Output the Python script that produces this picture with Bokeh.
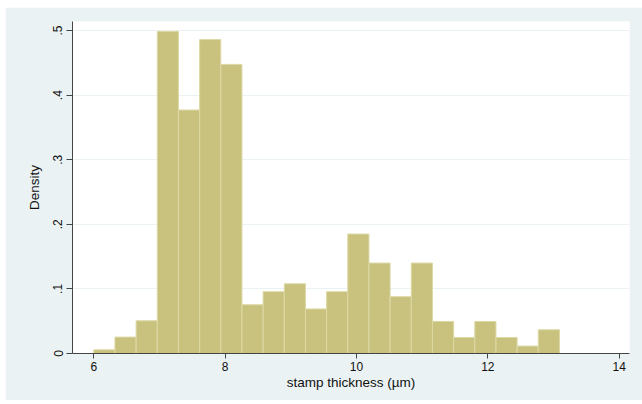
from bokeh.plotting import figure
from bokeh.models import FixedTicker, CustomJSTickFormatter, ColumnDataSource, Range1d, Spacer
from bokeh.layouts import column, row
from bokeh.embed import file_html
from bokeh.resources import INLINE

# Histogram data
bin_start = 6.0
bin_width = 0.3223
density = [0.0057, 0.0254, 0.0507, 0.4988, 0.377, 0.486, 0.4476, 0.0755,
           0.0957, 0.108, 0.069, 0.0957, 0.185, 0.140, 0.088, 0.140,
           0.0496, 0.0248, 0.0496, 0.0248, 0.0115, 0.0367]
x_ticks = [6, 8, 10, 12, 14]
y_ticks = [0, 0.1, 0.2, 0.3, 0.4, 0.5]
x_title = "stamp thickness (µm)"
y_title = "Density"

left = [bin_start + i * bin_width for i in range(len(density))]
right = [l + bin_width for l in left]
src = ColumnDataSource(dict(left=left, right=right, top=density, bottom=[0] * len(density)))

p = figure(width=637, height=393, output_backend="svg", toolbar_location=None,
           x_range=Range1d(5.676, 14.157), y_range=Range1d(0, 0.514),
           min_border_left=67, min_border_right=13, min_border_top=14, min_border_bottom=47)
p.background_fill_color = "white"
p.border_fill_color = "#EAF2F3"
p.outline_line_color = None

p.quad(left="left", right="right", top="top", bottom="bottom", source=src,
       fill_color="#C9C27F", line_color="#DDD9A5", line_width=1)

font = "Liberation Sans"
for ax in (p.xaxis[0], p.yaxis[0]):
    ax.axis_line_color = "#444444"
    ax.major_tick_line_color = "#444444"
    ax.minor_tick_line_color = None
    ax.major_tick_in = 0
    ax.major_tick_out = 5
    ax.major_label_text_font = font
    ax.major_label_text_font_size = "12px"
    ax.major_label_text_color = "#111111"
    ax.axis_label_text_font = font
    ax.axis_label_text_font_size = "13.5px"
    ax.axis_label_text_font_style = "normal"
    ax.axis_label_text_color = "#111111"

p.xaxis.ticker = FixedTicker(ticks=x_ticks)
p.xaxis.axis_label = x_title
p.xaxis.major_label_standoff = 3
p.xaxis.axis_label_standoff = 1

p.yaxis.ticker = FixedTicker(ticks=y_ticks)
p.yaxis.formatter = CustomJSTickFormatter(code="""
    if (Math.abs(tick) < 1e-9) { return "0"; }
    return tick.toFixed(1).replace(/^0/, "");
""")
p.yaxis.major_label_orientation = "vertical"
p.yaxis.axis_label = y_title
p.yaxis.major_tick_out = 6
p.yaxis.major_label_standoff = 4
p.yaxis.axis_label_standoff = 9

p.xgrid.grid_line_color = None
p.ygrid.ticker = FixedTicker(ticks=y_ticks)
p.ygrid.grid_line_color = "#EAF2F3"
p.ygrid.grid_line_width = 1

layout = column(Spacer(height=7), row(Spacer(width=5), p))
open("out.html", "w").write(file_html(layout, INLINE))
